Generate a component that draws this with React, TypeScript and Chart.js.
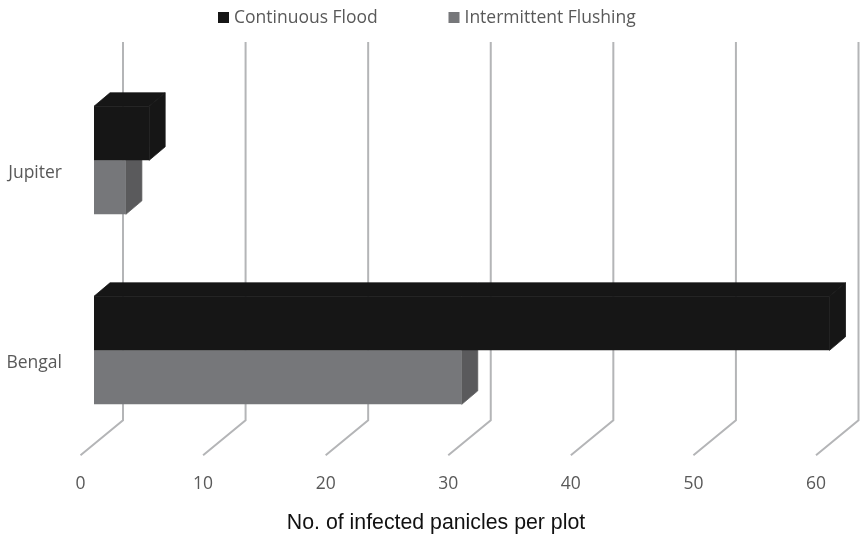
import React, { useEffect, useRef } from "react";
import { Chart, registerables } from "chart.js";

Chart.register(...registerables);

const categories = ["Jupiter", "Bengal"];
const continuousFlood = [4.5, 60];
const intermittentFlushing = [2.6, 30];
const seriesNames = ["Continuous Flood", "Intermittent Flushing"];
const xTicks = [0, 10, 20, 30, 40, 50, 60];
const axisTitle = "No. of infected panicles per plot";

const FONT = '"Open Sans", sans-serif';
const TEXT = "#595959";
const FRONT = ["#161616", "#76777a"];
const SIDE = ["#161616", "#5a5a5c"];
const TOP = ["#161616", "#8a8a8c"];
const GRID = "#b4b5b7";
const BAR_SHIFT = 13.5;
const BAR_DX = 16;
const BAR_DY = 13.5;
const WALL_DX = 42.5;
const WALL_DY = 35;
const WALL_TOP = 42;
const LEGEND_X = [218, 448.5];
const LEGEND_Y = 18;

const poly = (ctx: CanvasRenderingContext2D, pts: number[][], fill: string) => {
  ctx.beginPath();
  pts.forEach(([x, y], i) => (i ? ctx.lineTo(x, y) : ctx.moveTo(x, y)));
  ctx.closePath();
  ctx.fillStyle = fill;
  ctx.strokeStyle = fill;
  ctx.lineWidth = 0.8;
  ctx.fill();
  ctx.stroke();
};

const oblique = {
  id: "oblique",
  afterLayout(chart: any) {
    // the long category labels hang past the axis box; keep them from being clipped
    chart.scales.y.left = 0;
  },
  beforeDatasetsDraw(chart: any) {
    const { ctx, chartArea, scales } = chart;
    ctx.save();
    ctx.strokeStyle = GRID;
    ctx.lineWidth = 2;
    scales.x.ticks.forEach((t: any) => {
      const x = scales.x.getPixelForValue(t.value);
      ctx.beginPath();
      ctx.moveTo(x, chartArea.bottom + 10);
      ctx.lineTo(x + WALL_DX, chartArea.bottom + 10 - WALL_DY);
      ctx.lineTo(x + WALL_DX, WALL_TOP);
      ctx.stroke();
    });
    chart.data.datasets.forEach((_: any, d: number) => {
      chart.getDatasetMeta(d).data.forEach((bar: any) => {
        const l = bar.base + BAR_SHIFT;
        const r = bar.x + BAR_SHIFT;
        const t = bar.y - bar.height / 2;
        const b = bar.y + bar.height / 2;
        poly(ctx, [[l, t], [l + BAR_DX, t - BAR_DY], [r + BAR_DX, t - BAR_DY], [r, t]], TOP[d]);
        poly(ctx, [[r, t], [r + BAR_DX, t - BAR_DY], [r + BAR_DX, b - BAR_DY], [r, b]], SIDE[d]);
      });
    });
    ctx.restore();
    ctx.save();
    ctx.translate(BAR_SHIFT, 0);
  },
  afterDatasetsDraw(chart: any) {
    chart.ctx.restore();
  },
  afterDraw(chart: any) {
    const { ctx } = chart;
    ctx.save();
    ctx.font = `17.5px ${FONT}`;
    ctx.textBaseline = "middle";
    chart.data.datasets.forEach((ds: any, d: number) => {
      ctx.fillStyle = FRONT[d];
      ctx.fillRect(LEGEND_X[d], LEGEND_Y - 6, 11, 11);
      ctx.fillStyle = TEXT;
      ctx.fillText(ds.label, LEGEND_X[d] + 16, LEGEND_Y);
    });
    ctx.restore();
  },
};

export default function App() {
  const ref = useRef<HTMLCanvasElement>(null);
  useEffect(() => {
    const chart = new Chart(ref.current!, {
      type: "bar",
      plugins: [oblique],
      data: {
        labels: categories,
        datasets: [
          { label: seriesNames[0], data: continuousFlood, backgroundColor: FRONT[0], clip: false },
          { label: seriesNames[1], data: intermittentFlushing, backgroundColor: FRONT[1], clip: false },
        ] as any,
      },
      options: {
        indexAxis: "y",
        responsive: false,
        animation: false,
        layout: { padding: { top: 65.3, left: 56, right: 45, bottom: 0 } },
        datasets: { bar: { categoryPercentage: 108 / 190, barPercentage: 1 } },
        plugins: {
          legend: { display: false },
          tooltip: { enabled: false },
          title: {
            display: true,
            position: "bottom",
            text: axisTitle,
            color: "#111111",
            font: { family: '"Liberation Sans", Arial, sans-serif', size: 21.3, weight: "normal" },
            padding: { top: 0, bottom: 2 },
          },
        },
        scales: {
          x: {
            type: "linear",
            min: xTicks[0],
            max: xTicks[xTicks.length - 1],
            grid: { display: false, drawTicks: false },
            border: { display: false },
            afterFit: (s: any) => { s.height = 65.1; },
            ticks: { stepSize: 10, padding: 28.5, color: TEXT, font: { family: FONT, size: 17.5 }, maxRotation: 0 },
          },
          y: {
            type: "category",
            grid: { display: false, drawTicks: false },
            border: { display: false },
            afterFit: (s: any) => { s.width = 24.5; },
            ticks: { padding: 18.5, labelOffset: 13, color: TEXT, font: { family: FONT, size: 17.5 } },
          },
        },
      } as any,
    });
    return () => chart.destroy();
  }, []);
  return (
    <div style={{ position: "fixed", left: 0, top: 0, width: 861, height: 538, background: "#fff" }}>
      <canvas ref={ref} width={861} height={538} style={{ display: "block" }} />
    </div>
  );
}
